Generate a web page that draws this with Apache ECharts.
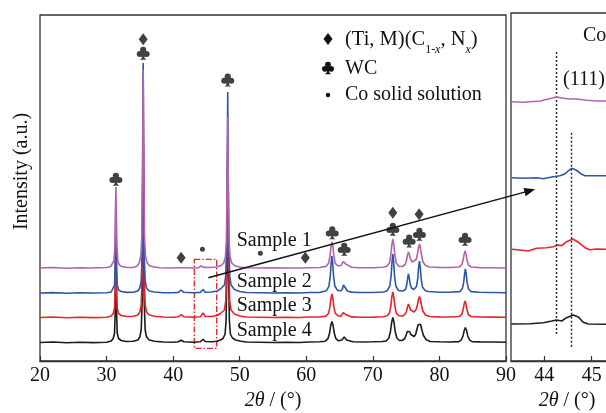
<!DOCTYPE html>
<html>
<head>
<meta charset="utf-8">
<script src="https://cdn.jsdelivr.net/npm/echarts@6/dist/echarts.min.js"></script>
<style>
  html, body { margin: 0; padding: 0; background: #fff; }
  #chart { width: 606px; height: 413px; }
</style>
</head>
<body>
<div id="chart"></div>
<script>
// XRD patterns, [2θ (°), intensity (a.u., traces stacked)]
const sample1 = [
  [20, 93], [22, 93.5], [24, 92.8], [26, 93.3], [27.5, 93], [28.3, 93.3], [28.6, 95], [28.9, 93.2], [30, 93.5],
  [30.6, 94.5], [30.9, 96], [31.1, 100], [31.25, 115], [31.33, 150], [31.4, 174], [31.47, 150], [31.55, 115],
  [31.7, 100], [31.9, 96], [32.3, 94.5], [33, 93.5], [34, 93.5], [34.6, 95], [34.9, 98], [35.15, 105],
  [35.3, 125], [35.4, 200], [35.5, 291], [35.6, 200], [35.7, 125], [35.85, 105], [36.1, 98], [36.5, 95],
  [37.2, 94], [38, 93.3], [39.5, 93], [41, 93.2], [41.3, 94], [41.6, 93.2], [43, 93], [43.8, 93.3], [44.2, 95],
  [44.6, 93.6], [45.5, 93.5], [46.5, 94], [47.2, 95.5], [47.6, 98], [47.85, 104], [48.0, 120], [48.1, 170],
  [48.2, 244], [48.3, 170], [48.4, 120], [48.55, 104], [48.8, 98], [49.3, 95], [50, 94], [51, 93.3], [53, 93],
  [55, 93.3], [57, 93], [59, 93], [60.5, 93.3], [62, 93.5], [62.95, 94.6], [63.35, 97.7], [63.55, 104.7],
  [63.7, 113.8], [63.85, 119], [64.0, 113.8], [64.15, 104.7], [64.35, 97.7], [64.75, 95.2], [65.2, 95.4],
  [65.4, 96.6], [65.55, 99.4], [65.7, 101], [65.85, 99.4], [66.0, 96.6], [66.2, 94.6], [66.8, 93.8], [68, 93.3],
  [70, 93.3], [71.5, 93.8], [72.1, 94.7], [72.5, 98.2], [72.7, 106], [72.85, 116.2], [73.0, 122], [73.15, 116.2],
  [73.3, 106], [73.5, 98.2], [73.9, 94.8], [74.45, 94.5], [74.85, 96.5], [75.05, 100.5], [75.2, 106],
  [75.35, 109], [75.5, 106], [75.65, 102], [75.9, 99], [76.2, 98.5], [76.5, 101.5], [76.7, 107], [76.85, 113],
  [77.0, 117], [77.15, 113], [77.3, 106.5], [77.5, 99.5], [77.9, 95.5], [78.5, 94], [80, 93.6], [81.5, 93.5],
  [82.95, 94], [83.35, 96.1], [83.55, 100.7], [83.7, 106.6], [83.85, 110], [84.0, 106.6], [84.15, 100.7],
  [84.35, 96.1], [84.75, 94], [86, 93.4], [88, 93.2], [90, 93]
];
const sample2 = [
  [20, 68], [22, 68.4], [24, 67.8], [26, 68.3], [28, 68], [30, 68.3], [30.7, 69], [31.0, 71], [31.2, 76],
  [31.3, 95], [31.4, 161], [31.5, 95], [31.6, 76], [31.8, 71], [32.2, 69.5], [33, 68.6], [34, 68.8], [34.7, 70],
  [35.0, 73], [35.2, 80], [35.35, 105], [35.42, 180], [35.5, 298], [35.58, 180], [35.65, 105], [35.8, 80],
  [36.0, 73], [36.4, 70], [37.2, 69], [38.5, 68.3], [40, 68.3], [40.8, 68.6], [41.2, 71], [41.6, 68.7],
  [43, 68.3], [44.1, 68.6], [44.5, 71.5], [44.8, 68.8], [45.8, 69], [46.6, 70], [47.1, 72], [47.4, 73],
  [47.7, 76], [47.9, 85], [48.05, 120], [48.13, 190], [48.2, 269], [48.27, 190], [48.35, 120], [48.5, 85],
  [48.7, 76], [49.2, 71.5], [50, 69.5], [51, 68.5], [53, 68.3], [55, 68], [57, 68.3], [59, 68], [60.4, 68.5],
  [62, 68.5], [63.0, 70.2], [63.4, 74.7], [63.6, 84.7], [63.73, 97.6], [63.85, 105], [63.97, 97.6],
  [64.1, 84.7], [64.3, 74.7], [64.7, 70.6], [65.25, 70.3], [65.45, 72.5], [65.58, 76], [65.7, 78], [65.82, 76],
  [65.95, 72.5], [66.15, 70], [66.8, 68.9], [68, 68.5], [70, 68.5], [71.6, 69], [72.15, 70.3], [72.55, 75],
  [72.75, 85.6], [72.88, 99.2], [73.0, 107], [73.12, 99.2], [73.25, 85.6], [73.45, 75], [73.85, 70.5],
  [74.5, 70], [74.9, 71.5], [75.1, 76.5], [75.23, 83], [75.35, 87], [75.47, 83], [75.6, 77], [75.8, 73],
  [76.15, 71.5], [76.55, 74.5], [76.75, 82.5], [76.88, 94], [77.0, 100], [77.12, 94], [77.25, 82.5],
  [77.45, 74], [77.85, 70.5], [78.3, 69.5], [80, 68.8], [81.5, 68.7], [83.05, 69.4], [83.45, 72.3],
  [83.65, 78.8], [83.78, 87.2], [83.9, 92], [84.02, 87.2], [84.15, 78.8], [84.35, 72.3], [84.75, 69.4],
  [86, 68.7], [88, 68.5], [90, 68.3]
];
const sample3 = [
  [20, 43.5], [22, 44], [24, 43.2], [26, 43.8], [28, 43.4], [30, 43.8], [30.7, 45], [31.0, 47.5], [31.2, 53],
  [31.3, 75], [31.4, 143.5], [31.5, 75], [31.6, 53], [31.8, 47.5], [32.2, 45.5], [33, 44.5], [34, 44.8],
  [34.7, 46], [35.0, 49], [35.2, 56], [35.35, 85], [35.42, 160], [35.5, 253], [35.58, 160], [35.65, 85],
  [35.8, 56], [36.0, 49], [36.4, 46], [37.2, 44.8], [38.5, 44], [40, 43.8], [40.8, 44.2], [41.2, 46.5],
  [41.6, 44.3], [43, 43.8], [44.1, 44.3], [44.5, 48], [44.8, 44.6], [45.8, 44.5], [46.6, 45.5], [47.1, 47.5],
  [47.4, 48.5], [47.7, 51], [47.9, 60], [48.05, 95], [48.13, 160], [48.2, 218], [48.27, 160], [48.35, 95],
  [48.5, 60], [48.7, 51], [49.2, 47], [50, 45], [51, 44], [53, 43.8], [55, 43.5], [57, 43.8], [59, 43.5],
  [60.4, 44], [62, 44], [62.95, 44.9], [63.35, 47.7], [63.55, 54.1], [63.7, 62.3], [63.85, 67], [64.0, 62.3],
  [64.15, 54.1], [64.35, 47.7], [64.75, 45.3], [65.2, 44.9], [65.4, 46.2], [65.55, 48.3], [65.7, 49.5],
  [65.85, 48.3], [66.0, 46.2], [66.2, 44.8], [66.8, 44.1], [68, 43.8], [70, 43.9], [71.5, 44.3], [72.1, 45],
  [72.5, 48.1], [72.7, 55], [72.85, 63.9], [73.0, 69], [73.15, 63.9], [73.3, 55], [73.5, 48.1], [73.9, 45.2],
  [74.45, 45], [74.85, 46.8], [75.05, 49.5], [75.2, 54], [75.35, 57], [75.5, 54.5], [75.65, 51], [75.9, 49.2],
  [76.2, 49], [76.5, 51.5], [76.7, 56.5], [76.85, 61.5], [77.0, 64.5], [77.15, 61.5], [77.3, 56], [77.5, 50],
  [77.9, 46], [78.5, 44.5], [80, 44.1], [81.5, 44], [82.95, 44.5], [83.35, 46.5], [83.55, 50.9], [83.7, 56.7],
  [83.85, 60], [84.0, 56.7], [84.15, 50.9], [84.35, 46.5], [84.75, 44.5], [86, 44], [88, 43.9], [90, 43.8]
];
const sample4 = [
  [20, 18.5], [22, 19], [24, 18.3], [26, 18.8], [28, 18.4], [30, 18.8], [30.7, 20], [31.0, 22.5], [31.2, 28],
  [31.3, 50], [31.4, 128], [31.5, 50], [31.6, 28], [31.8, 22.5], [32.2, 20.5], [33, 19.5], [34, 19.8],
  [34.7, 21], [35.0, 24], [35.2, 31], [35.35, 60], [35.42, 140], [35.5, 228], [35.58, 140], [35.65, 60],
  [35.8, 31], [36.0, 24], [36.4, 21], [37.2, 19.8], [38.5, 19], [40, 18.8], [40.8, 19.2], [41.2, 20.8],
  [41.6, 19.2], [43, 18.8], [44.1, 19.2], [44.5, 21.8], [44.8, 19.5], [45.8, 19.3], [46.6, 19.8], [47.1, 21],
  [47.5, 22.5], [47.8, 27], [47.95, 40], [48.08, 90], [48.2, 203], [48.32, 90], [48.45, 40], [48.6, 27],
  [48.9, 23], [49.4, 21], [50.2, 19.8], [51, 19], [53, 18.8], [55, 18.5], [57, 18.8], [59, 18.5], [60.4, 19],
  [62, 19.2], [62.85, 19.8], [63.25, 22.3], [63.5, 28], [63.67, 35.3], [63.85, 39.5], [64.03, 35.3], [64.2, 28],
  [64.45, 22.3], [64.85, 20.2], [65.1, 20], [65.35, 21], [65.52, 22.9], [65.7, 24], [65.88, 22.9], [66.05, 21],
  [66.3, 19.6], [67, 19.2], [68.5, 19], [70, 19.2], [71.4, 19.5], [72.0, 20], [72.4, 23], [72.65, 29.8],
  [72.82, 38.5], [73.0, 43.5], [73.18, 38.5], [73.35, 29.8], [73.6, 23], [74.0, 20.5], [74.4, 20.5],
  [74.8, 22.5], [75.0, 26], [75.17, 29.5], [75.35, 31.5], [75.52, 29.5], [75.7, 26.5], [75.95, 24.5],
  [76.2, 24.5], [76.45, 27], [76.65, 32.5], [76.82, 36.5], [77.0, 38.5], [77.18, 36.5], [77.35, 31.5],
  [77.6, 25.5], [78.0, 21.5], [78.6, 19.5], [80, 19.2], [81.5, 19], [82.9, 19.4], [83.3, 21.2], [83.55, 25.3],
  [83.72, 30.5], [83.9, 33.5], [84.08, 30.5], [84.25, 25.3], [84.5, 21.2], [84.9, 19.4], [86, 19.1], [88, 19],
  [90, 18.8]
];

// Enlarged Co (111) region, 43.3°–45.7°
const zoom1 = [
  [43.31, 259.3], [43.56, 258.7], [43.91, 260], [44.09, 262], [44.26, 264], [44.40, 262.7], [44.54, 262],
  [44.68, 262], [44.90, 260.7], [45.11, 260], [45.31, 260], [45.66, 259.6]
];
const zoom2 = [
  [43.31, 183.3], [43.56, 182.7], [43.84, 183.3], [43.98, 182.3], [44.19, 184.3], [44.33, 185.3],
  [44.42, 186.7], [44.46, 185.3], [44.53, 191], [44.58, 192.7], [44.67, 191], [44.79, 186.7], [44.86, 185.3],
  [45.11, 185.3], [45.31, 185.3], [45.66, 185.3]
];
const zoom3 = [
  [43.31, 111.7], [43.49, 111], [43.66, 110], [43.84, 112.7], [44.05, 113.3], [44.19, 114.3], [44.30, 116],
  [44.37, 115.3], [44.47, 119.3], [44.60, 122], [44.72, 118.7], [44.86, 113.3], [44.96, 111.3], [45.11, 112],
  [45.31, 111.7], [45.66, 111.7]
];
const zoom4 = [
  [43.31, 37], [43.70, 37.3], [43.98, 38.3], [44.16, 40], [44.26, 41], [44.37, 40], [44.47, 43.3],
  [44.61, 46], [44.72, 44], [44.82, 38.7], [44.93, 37], [45.31, 36.7], [45.66, 36.7]
];
// Co (111) peak positions marked in the enlarged panel, with line extents
const coPeakLines = [
  { pos: 44.26, from: 27, to: 311 },
  { pos: 44.56, from: 14.3, to: 229.3 }
];

// Phase markers: [2θ, height at which the symbol sits]
const wcMarks = [[31.4, 181.7], [35.5, 307.7], [48.2, 281], [63.9, 128.3], [65.7, 111.7], [73.0, 131.7],
  [75.45, 120], [77.0, 126.7], [83.85, 121.7]];
const ticnMarks = [[35.5, 321.7], [41.2, 103.3], [59.85, 103.3], [73.0, 148.3], [76.95, 146.7]];
const coMarks = [[44.4, 111.7], [53.1, 107.7]];

const sampleNames = ['Sample 1', 'Sample 2', 'Sample 3', 'Sample 4'];
const sampleLabelAnchors = [[49.55, 120.5], [49.55, 79], [49.55, 55], [49.55, 30.7]];
const mainTicks = { min: 20, max: 90, step: 10 };
const zoomTicks = [44, 45];
const zoomRange = [43.3, 45.66];
const boxRange = { x: [43.18, 46.54], y: [12.7, 101.7] };
const arrowFrom = [45.28, 83.3];   // main panel
const arrowTo = [43.81, 171.7];    // enlarged panel

const colors = ['#1c1c1c', '#e5252a', '#2f55a4', '#b263ae'];
const FONT = '"Liberation Serif", "Times New Roman", serif';
const CLUB = 'path://M50,2 A22,22 0 1,1 49.99,2 Z M26,34 A22,22 0 1,1 25.99,34 Z M74,34 A22,22 0 1,1 73.99,34 Z M40,40 L60,40 L60,64 L40,64 Z M45,50 L55,50 L59,82 Q63,94 74,99 L26,99 Q37,94 41,82 Z';

const chart = echarts.init(document.getElementById('chart'), null, { renderer: 'canvas' });

const mainSeries = [sample4, sample3, sample2, sample1].map((d, i) => ({
  type: 'line', xAxisIndex: 0, yAxisIndex: 0, data: d, showSymbol: false, symbol: 'none',
  lineStyle: { color: colors[i], width: 1.6 }, z: 3 + i, silent: true, animation: false
}));
mainSeries[3].markArea = {
  silent: true,
  itemStyle: { color: 'rgba(0,0,0,0)', borderColor: '#e5252a', borderWidth: 1.3, borderType: [6, 2, 1.5, 2] },
  label: { show: false },
  data: [[{ coord: [boxRange.x[0], boxRange.y[1]] }, { coord: [boxRange.x[1], boxRange.y[0]] }]]
};

const zoomSeries = [zoom4, zoom3, zoom2, zoom1].map((d, i) => ({
  type: 'line', xAxisIndex: 1, yAxisIndex: 1, data: d, showSymbol: false, symbol: 'none',
  lineStyle: { color: colors[i], width: 1.6 }, z: 3 + i, silent: true, animation: false
}));
zoomSeries[0].markLine = {
  silent: true, symbol: ['none', 'none'], label: { show: false },
  lineStyle: { type: [2, 2], color: '#222', width: 1.4 },
  data: coPeakLines.map(l => [{ coord: [l.pos, l.from] }, { coord: [l.pos, l.to] }])
};

const markerSeries = [
  { data: wcMarks, symbol: CLUB, symbolSize: [13, 13] },
  { data: ticnMarks, symbol: 'diamond', symbolSize: [9, 12] },
  { data: coMarks, symbol: 'circle', symbolSize: 5 }
].map(m => ({
  type: 'scatter', xAxisIndex: 0, yAxisIndex: 0, data: m.data, symbol: m.symbol,
  symbolSize: m.symbolSize, symbolKeepAspect: false, itemStyle: { color: '#111' }, z: 10,
  silent: true, animation: false
}));

const axisText = { fontFamily: FONT, fontSize: 20, color: '#111' };

chart.setOption({
  animation: false,
  backgroundColor: '#fff',
  grid: [
    { left: 40, top: 15, width: 466, bottom: 52, show: true, borderColor: '#333', borderWidth: 1.3, outerBoundsMode: 'none', containLabel: false },
    { left: 511, top: 13, width: 112, bottom: 52, show: true, borderColor: '#333', borderWidth: 1.3, outerBoundsMode: 'none', containLabel: false }
  ],
  xAxis: [
    {
      gridIndex: 0, type: 'value', min: mainTicks.min, max: mainTicks.max, interval: mainTicks.step,
      axisLine: { show: true, lineStyle: { color: '#333', width: 1.3 } },
      axisTick: { show: true, inside: true, length: 5, lineStyle: { color: '#333', width: 1.2 } },
      splitLine: { show: false },
      axisLabel: Object.assign({ margin: 5 }, axisText),
      name: '{i|2θ} / (°)', nameLocation: 'middle', nameGap: 29,
      nameTextStyle: Object.assign({ rich: { i: Object.assign({ fontStyle: 'italic' }, axisText) } }, axisText)
    },
    {
      gridIndex: 1, type: 'value', min: zoomRange[0], max: zoomRange[1],
      axisLine: { show: true, lineStyle: { color: '#333', width: 1.3 } },
      axisTick: { show: true, inside: true, length: 5, customValues: zoomTicks, lineStyle: { color: '#333', width: 1.2 } },
      splitLine: { show: false },
      axisLabel: Object.assign({ margin: 5, customValues: zoomTicks }, axisText),
      name: '{i|2θ} / (°)', nameLocation: 'middle', nameGap: 29,
      nameTextStyle: Object.assign({ rich: { i: Object.assign({ fontStyle: 'italic' }, axisText) } }, axisText)
    }
  ],
  yAxis: [
    { gridIndex: 0, type: 'value', min: 0, max: 346, show: false, splitLine: { show: false } },
    { gridIndex: 1, type: 'value', min: 0, max: 348, show: false, splitLine: { show: false } }
  ],
  series: mainSeries.concat(zoomSeries, markerSeries)
});

// Annotations: legend, sample labels, axis title, arrow into the enlarged panel
const legendFont = '20px ' + FONT;
const ink = '#111';
const graphics = [];

graphics.push({
  type: 'text', x: 22, y: 171.5, rotation: Math.PI / 2, z: 20,
  style: { text: 'Intensity (a.u.)', font: legendFont, fill: ink, align: 'center', verticalAlign: 'middle' }
});

// legend symbols: club built from three lobes and a stem
const cx = 328, cy = 68, k = 0.13;
[[50, 24], [26, 56], [74, 56]].forEach(c => {
  graphics.push({ type: 'circle', z: 20, shape: { cx: cx + (c[0] - 50) * k, cy: cy + (c[1] - 50) * k, r: 22 * k }, style: { fill: '#111' } });
});
graphics.push({ type: 'polygon', z: 20, shape: { points: [[40, 40], [60, 40], [60, 64], [40, 64]].map(p => [cx + (p[0] - 50) * k, cy + (p[1] - 50) * k]) }, style: { fill: '#111' } });
graphics.push({ type: 'polygon', z: 20, shape: { points: [[45, 50], [55, 50], [59, 82], [74, 99], [26, 99], [41, 82]].map(p => [cx + (p[0] - 50) * k, cy + (p[1] - 50) * k]) }, style: { fill: '#111' } });
graphics.push({ type: 'polygon', z: 20, shape: { points: [[328, 33], [332.5, 39], [328, 45], [323.5, 39]] }, style: { fill: '#111' } });
graphics.push({ type: 'circle', z: 20, shape: { cx: 328, cy: 95, r: 2.2 }, style: { fill: '#111' } });

const base = { fontFamily: FONT, fontSize: 20.5, lineHeight: 32, fill: ink, color: ink, verticalAlign: 'middle' };
const sub = { fontFamily: FONT, fontSize: 12, lineHeight: 12, fill: ink, color: ink, verticalAlign: 'bottom' };
graphics.push({
  type: 'text', x: 345, y: 39.5, z: 20,
  style: {
    text: '{a|(Ti, M)(C}{s|1-}{si|x}{a|, N}{si|x}{a|)}',
    verticalAlign: 'middle', align: 'left',
    rich: {
      a: base,
      s: sub,
      si: Object.assign({}, sub, { fontStyle: 'italic' })
    }
  }
});
graphics.push({ type: 'text', x: 345, y: 68.5, z: 20, style: { text: 'WC', font: legendFont, fill: ink, align: 'left', verticalAlign: 'middle' } });
graphics.push({ type: 'text', x: 345, y: 95, z: 20, style: { text: 'Co solid solution', font: legendFont, fill: ink, align: 'left', verticalAlign: 'middle' } });

// enlarged-panel captions
graphics.push({ type: 'text', x: 583, y: 35.5, z: 20, style: { text: 'Co', font: legendFont, fill: ink, align: 'left', verticalAlign: 'middle' } });
graphics.push({ type: 'text', x: 563, y: 79.5, z: 20, style: { text: '(111)', font: legendFont, fill: ink, align: 'left', verticalAlign: 'middle' } });

sampleNames.forEach((name, i) => {
  const p = chart.convertToPixel({ gridIndex: 0 }, sampleLabelAnchors[i]);
  graphics.push({ type: 'text', x: p[0], y: p[1], z: 20, style: { text: name, font: legendFont, fill: ink, align: 'left', verticalAlign: 'middle' } });
});

const a0 = chart.convertToPixel({ gridIndex: 0 }, arrowFrom);
const a1 = chart.convertToPixel({ gridIndex: 1 }, arrowTo);
const dx = a1[0] - a0[0], dy = a1[1] - a0[1];
const len = Math.hypot(dx, dy), ux = dx / len, uy = dy / len;
const headL = 11, headW = 4.2;
const bx = a1[0] - ux * headL, by = a1[1] - uy * headL;
graphics.push({ type: 'line', z: 21, shape: { x1: a0[0], y1: a0[1], x2: bx + ux * 2, y2: by + uy * 2 }, style: { stroke: '#111', lineWidth: 1.5 } });
graphics.push({
  type: 'polygon', z: 21,
  shape: { points: [[a1[0], a1[1]], [bx - uy * headW, by + ux * headW], [bx + uy * headW, by - ux * headW]] },
  style: { fill: '#111' }
});

chart.setOption({ graphic: graphics });
</script>
</body>
</html>
